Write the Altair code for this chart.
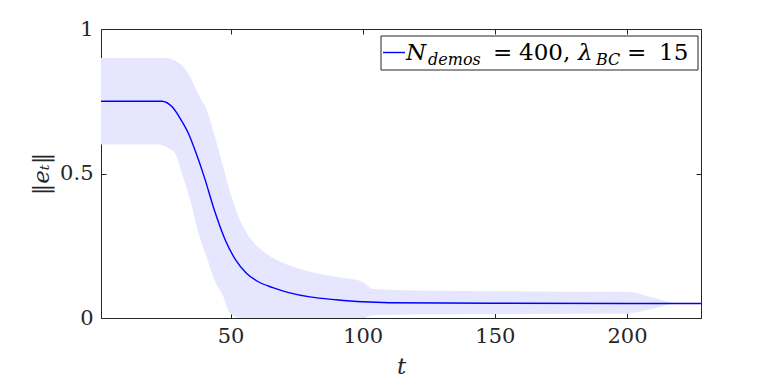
import altair as alt
import pandas as pd

# ---- data ----
t_band = [1, 23, 26, 29, 32, 35, 38, 41, 44, 47, 50, 54, 58, 64, 70, 78, 88, 100, 104, 120, 160, 200, 210, 219, 228]
band_hi = [0.9, 0.9, 0.9, 0.89, 0.87, 0.83, 0.77, 0.72, 0.63, 0.53, 0.43, 0.33, 0.27, 0.22, 0.19, 0.165, 0.145, 0.125, 0.10, 0.095, 0.092, 0.091, 0.07, 0.051, 0.05]
band_lo = [0.6, 0.6, 0.59, 0.57, 0.49, 0.40, 0.29, 0.21, 0.13, 0.08, 0.015, 0, 0, 0, 0, 0, 0, 0, 0.01, 0.012, 0.014, 0.016, 0.033, 0.05, 0.05]

t_mean = [1, 24, 28, 31, 34, 37, 40, 44, 48, 52, 56, 60, 66, 72, 80, 90, 100, 110, 150, 200, 228]
mean_v = [0.75, 0.75, 0.73, 0.69, 0.64, 0.57, 0.49, 0.37, 0.27, 0.2, 0.155, 0.128, 0.105, 0.088, 0.073, 0.063, 0.056, 0.053, 0.051, 0.05, 0.05]

x_ticks = [50, 100, 150, 200]
y_ticks = [0, 0.5, 1]

band_df = pd.DataFrame({"t": t_band, "hi": band_hi, "lo": band_lo})
mean_df = pd.DataFrame({"t": t_mean, "m": mean_v})
one = pd.DataFrame({"a": [0]})

FONT = "DejaVu Serif, Liberation Serif, Times New Roman, serif"
INK = "#262626"
W, H = 600, 289

xs = alt.Scale(domain=[1, 228], nice=False, zero=False)
ys = alt.Scale(domain=[0, 1], nice=False)

band = alt.Chart(band_df).mark_area(color="#e6e6ff", interpolate="monotone").encode(
    x=alt.X("t:Q", scale=xs, axis=alt.Axis(orient="bottom", values=x_ticks, offset=-5, tickSize=5,
                                           domain=False, grid=False, labelPadding=7, title="t",
                                           titleFontStyle="italic", titlePadding=9)),
    y=alt.Y("lo:Q", scale=ys, axis=alt.Axis(orient="left", values=y_ticks, offset=-5, tickSize=5,
                                            domain=False, grid=False, labelPadding=8, format="~g",
                                            title="‖eₜ‖", titleFontStyle="italic", titlePadding=6)),
    y2="hi:Q",
)

line = alt.Chart(mean_df).mark_line(color="#0000ff", strokeWidth=1.4, interpolate="monotone").encode(
    x=alt.X("t:Q", scale=xs, axis=alt.Axis(orient="top", values=x_ticks, offset=-5, tickSize=5,
                                           domain=False, grid=False, labels=False, title=None)),
    y=alt.Y("m:Q", scale=ys, axis=alt.Axis(orient="right", values=y_ticks, offset=-5, tickSize=5,
                                           domain=False, grid=False, labels=False, title=None)),
)

# legend box
leg_box = alt.Chart(one).mark_rect(fill="white", stroke=INK, strokeWidth=1).encode(
    x=alt.value(280), x2=alt.value(597), y=alt.value(7), y2=alt.value(41)
)
leg_line = alt.Chart(one).mark_rule(color="#0000ff", strokeWidth=1.4).encode(
    x=alt.value(282), x2=alt.value(304), y=alt.value(23.5)
)


def txt(s, x, y, size, italic):
    return alt.Chart(one).mark_text(
        font=FONT, fontSize=size, fontStyle="italic" if italic else "normal",
        align="left", baseline="alphabetic", color="black"
    ).encode(x=alt.value(x), y=alt.value(y), text=alt.value(s))


legend_parts = [
    txt("N", 305, 31, 23, True),
    txt("demos", 327, 35.5, 16, True),
    txt("=", 392, 31, 23, False),
    txt("400,", 418, 31, 23, False),
    txt("λ", 477, 31, 23, True),
    txt("BC", 495, 35.5, 16, True),
    txt("=", 526, 31, 23, False),
    txt("15", 558, 31, 23, False),
]

chart = alt.layer(band, line, leg_box, leg_line, *legend_parts).resolve_axis(
    x="independent", y="independent"
).properties(
    width=W, height=H,
    autosize=alt.AutoSizeParams(type="none"),
    padding={"left": 93, "top": 21, "right": 68, "bottom": 60},
).configure_view(
    stroke=INK, strokeWidth=1
).configure_axis(
    labelFont=FONT, labelFontSize=21, labelColor=INK, tickColor=INK, tickWidth=1,
    titleFont=FONT, titleFontSize=23, titleColor=INK, titleFontWeight="normal",
)

chart.save("out.html", embed_options={"renderer": "svg", "actions": False})
